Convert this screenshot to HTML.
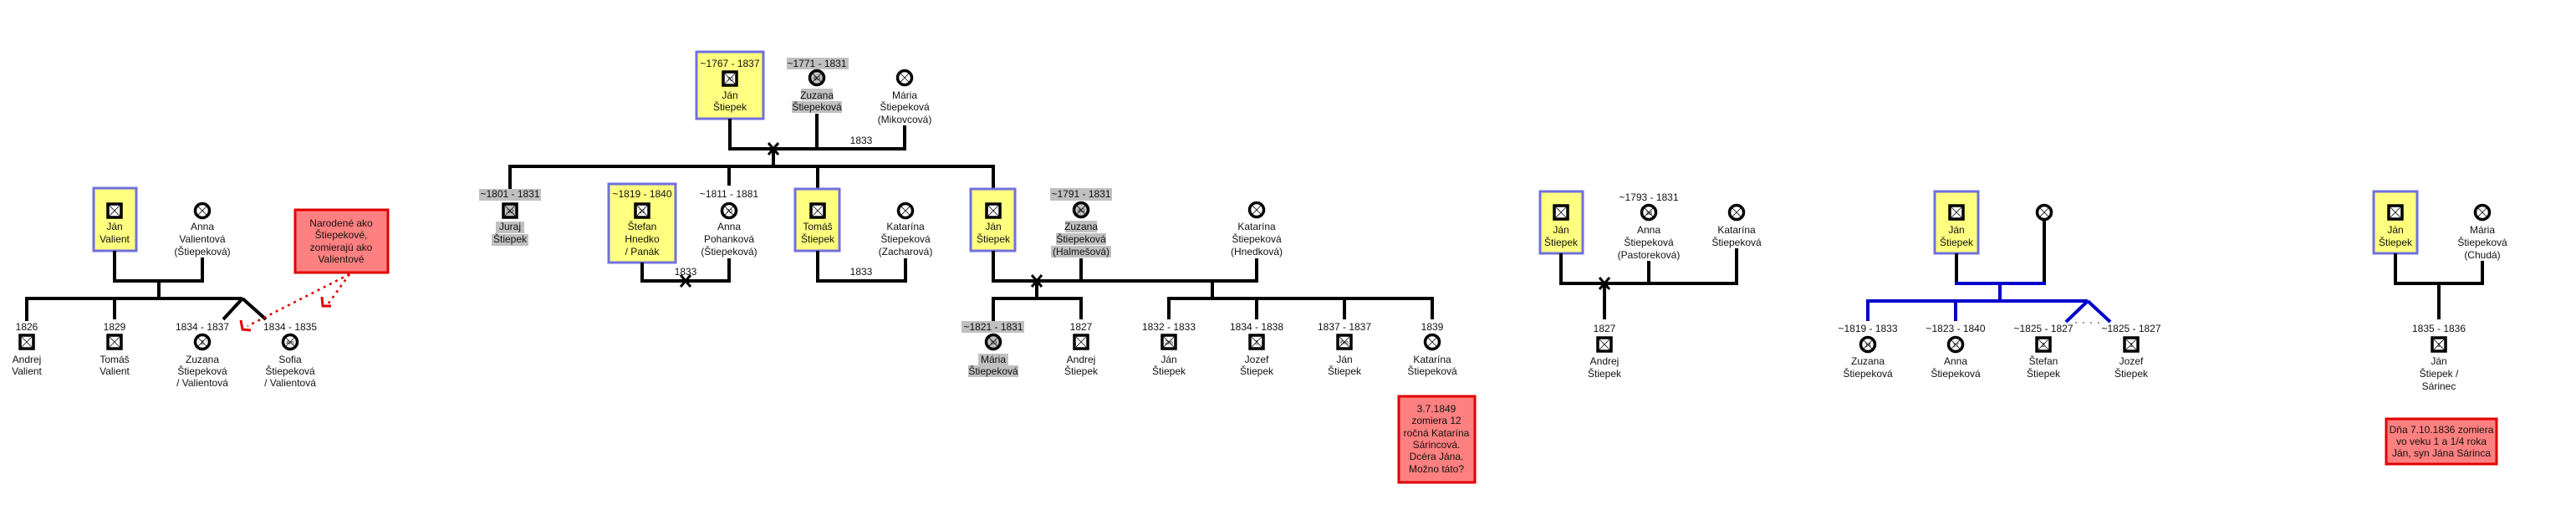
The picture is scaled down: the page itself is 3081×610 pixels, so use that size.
<!DOCTYPE html>
<html><head><meta charset="utf-8"><style>
html,body{margin:0;padding:0;background:#fff;}
svg{display:block;}
text{font-family:"Liberation Sans",Arial,sans-serif;font-size:12px;fill:#111;text-anchor:middle;}
.n{font-size:7px;}
.L{stroke:#000;stroke-width:4;fill:none;}
.B{stroke:#0000cc;stroke-width:4;fill:none;}
.box{fill:#ffff80;stroke:#7070e0;stroke-width:3;}
.red{fill:#ff8080;stroke:#e00000;stroke-width:3;}
.g{fill:#c0c0c0;}
</style></head><body>
<svg width="3081" height="610" viewBox="0 0 3081 610" xmlns="http://www.w3.org/2000/svg">
<defs>
<g id="m"><rect x="-8" y="-8" width="16" height="16" stroke="#000" stroke-width="3.5"/><path d="M-6,-6L6,6M6,-6L-6,6" stroke="#000" stroke-width="0.8"/></g>
<g id="f"><circle r="8.5" stroke="#000" stroke-width="3.5"/><path d="M-6,-6L6,6M6,-6L-6,6" stroke="#000" stroke-width="0.8"/></g>
<g id="x"><path d="M-6,-7L6,7M6,-7L-6,7" stroke="#000" stroke-width="3"/></g>
</defs>

<!-- ===== Group 1: Valient ===== -->
<rect class="box" x="112" y="225" width="51" height="75"/>
<use href="#m" x="137" y="252" fill="#fff"/>
<text x="137" y="275">Ján</text><text x="137" y="290">Valient</text>
<use href="#f" x="242" y="252" fill="#fff"/>
<text x="242" y="275">Anna</text><text x="242" y="290">Valientová</text><text x="242" y="305">(Štiepeková)</text>
<path class="L" d="M137,300V336H242V308M190,336V357M32,384V357H290M137,357V382M290,357L267,382M290,357L318,382"/>
<text x="32" y="395">1826</text><use href="#m" x="32" y="409" fill="#fff"/>
<text x="32" y="434">Andrej</text><text x="32" y="448">Valient</text>
<text x="137" y="395">1829</text><use href="#m" x="137" y="409" fill="#fff"/>
<text x="137" y="434">Tomáš</text><text x="137" y="448">Valient</text>
<text x="242" y="395">1834 - 1837</text><use href="#f" x="242" y="409" fill="#fff"/><text class="n" x="242" y="412">2</text>
<text x="242" y="434">Zuzana</text><text x="242" y="448">Štiepeková</text><text x="242" y="462">/ Valientová</text>
<text x="347" y="395">1834 - 1835</text><use href="#f" x="347" y="409" fill="#fff"/><text class="n" x="347" y="412">4m</text>
<text x="347" y="434">Sofia</text><text x="347" y="448">Štiepeková</text><text x="347" y="462">/ Valientová</text>
<rect class="red" x="353" y="251" width="111" height="75"/>
<text x="408" y="271">Narodené ako</text><text x="408" y="285">Štiepekové,</text><text x="408" y="300">zomierajú ako</text><text x="408" y="314">Valientové</text>
<path d="M418,328L296,390M418,328L392,364" stroke="#e00000" stroke-width="2.5" stroke-dasharray="3,5" fill="none"/>
<path d="M288,383L290,394L300,395" stroke="#e00000" stroke-width="3" fill="none"/>
<path d="M385,355L386,366L396,366" stroke="#e00000" stroke-width="3" fill="none"/>

<!-- ===== Group 2: top ===== -->
<rect class="box" x="833" y="62" width="80" height="80"/>
<text x="873" y="80">~1767 - 1837</text>
<use href="#m" x="873" y="94" fill="#fff"/><text class="n" x="873" y="97">70</text>
<text x="873" y="118">Ján</text><text x="873" y="132">Štiepek</text>
<rect class="g" x="941" y="69" width="74" height="14"/>
<text x="977" y="80">~1771 - 1831</text>
<use href="#f" x="977" y="93" fill="#c0c0c0"/><text class="n" x="977" y="96">60</text>
<rect class="g" x="958" y="106" width="38" height="14"/><rect class="g" x="947" y="121" width="60" height="14"/>
<text x="977" y="118">Zuzana</text><text x="977" y="132">Štiepeková</text>
<use href="#f" x="1082" y="93" fill="#fff"/>
<text x="1082" y="118">Mária</text><text x="1082" y="132">Štiepeková</text><text x="1082" y="147">(Mikovcová)</text>
<path class="L" d="M873,142V178H1082V150M977,136V178M925,178V199M610,226V199H1188V226M872,199V222M978,199V226"/>
<use href="#x" x="925" y="178"/>
<text x="1030" y="172">1833</text>

<!-- row 2 -->
<rect class="g" x="573" y="226" width="74" height="14"/>
<text x="610" y="236">~1801 - 1831</text>
<use href="#m" x="610" y="252" fill="#c0c0c0"/><text class="n" x="610" y="255">30</text>
<rect class="g" x="593" y="265" width="34" height="14"/><rect class="g" x="588" y="280" width="44" height="14"/>
<text x="610" y="275">Juraj</text><text x="610" y="290">Štiepek</text>

<rect class="box" x="728" y="220" width="80" height="94"/>
<text x="768" y="236">~1819 - 1840</text>
<use href="#m" x="768" y="252" fill="#fff"/><text class="n" x="768" y="255">21</text>
<text x="768" y="275">Štefan</text><text x="768" y="290">Hnedko</text><text x="768" y="305">/ Panák</text>
<text x="872" y="236">~1811 - 1881</text>
<use href="#f" x="872" y="252" fill="#fff"/><text class="n" x="872" y="255">70</text>
<text x="872" y="275">Anna</text><text x="872" y="290">Pohanková</text><text x="872" y="305">(Štiepeková)</text>
<path class="L" d="M768,314V336H872V309"/>
<use href="#x" x="820" y="336"/>
<text x="820" y="329">1833</text>

<rect class="box" x="951" y="226" width="53" height="74"/>
<use href="#m" x="978" y="252" fill="#fff"/>
<text x="978" y="275">Tomáš</text><text x="978" y="290">Štiepek</text>
<use href="#f" x="1083" y="252" fill="#fff"/>
<text x="1083" y="275">Katarína</text><text x="1083" y="290">Štiepeková</text><text x="1083" y="305">(Zacharová)</text>
<path class="L" d="M978,300V336H1083V309"/>
<text x="1030" y="329">1833</text>

<rect class="box" x="1161" y="226" width="53" height="74"/>
<use href="#m" x="1188" y="252" fill="#fff"/>
<text x="1188" y="275">Ján</text><text x="1188" y="290">Štiepek</text>
<rect class="g" x="1256" y="225" width="74" height="15"/>
<text x="1293" y="236">~1791 - 1831</text>
<use href="#f" x="1293" y="251" fill="#c0c0c0"/><text class="n" x="1293" y="254">40</text>
<rect class="g" x="1274" y="264" width="38" height="14"/><rect class="g" x="1263" y="279" width="60" height="14"/><rect class="g" x="1257" y="294" width="72" height="14"/>
<text x="1293" y="275">Zuzana</text><text x="1293" y="290">Štiepeková</text><text x="1293" y="305">(Halmešová)</text>
<use href="#f" x="1503" y="251" fill="#fff"/>
<text x="1503" y="275">Katarína</text><text x="1503" y="290">Štiepeková</text><text x="1503" y="305">(Hnedková)</text>
<path class="L" d="M1188,300V336H1503V309M1293,309V336M1240,336V357M1188,384V357H1293V382M1450,336V357M1398,382V357H1713V382M1503,357V382M1608,357V382"/>
<use href="#x" x="1240" y="336"/>

<!-- row 3 -->
<rect class="g" x="1150" y="384" width="75" height="14"/>
<text x="1188" y="395">~1821 - 1831</text>
<use href="#f" x="1188" y="409" fill="#c0c0c0"/><text class="n" x="1188" y="412">10</text>
<rect class="g" x="1170" y="423" width="36" height="14"/><rect class="g" x="1158" y="437" width="60" height="14"/>
<text x="1188" y="434">Mária</text><text x="1188" y="448">Štiepeková</text>
<text x="1293" y="395">1827</text><use href="#m" x="1293" y="409" fill="#fff"/>
<text x="1293" y="434">Andrej</text><text x="1293" y="448">Štiepek</text>
<text x="1398" y="395">1832 - 1833</text><use href="#m" x="1398" y="409" fill="#fff"/><text class="n" x="1398" y="412">2m</text>
<text x="1398" y="434">Ján</text><text x="1398" y="448">Štiepek</text>
<text x="1503" y="395">1834 - 1838</text><use href="#m" x="1503" y="409" fill="#fff"/><text class="n" x="1503" y="412">3</text>
<text x="1503" y="434">Jozef</text><text x="1503" y="448">Štiepek</text>
<text x="1608" y="395">1837 - 1837</text><use href="#m" x="1608" y="409" fill="#fff"/><text class="n" x="1608" y="412">6m</text>
<text x="1608" y="434">Ján</text><text x="1608" y="448">Štiepek</text>
<text x="1713" y="395">1839</text><use href="#f" x="1713" y="409" fill="#fff"/>
<text x="1713" y="434">Katarína</text><text x="1713" y="448">Štiepeková</text>
<rect class="red" x="1673" y="474" width="91" height="103"/>
<text x="1718" y="493">3.7.1849</text><text x="1718" y="507">zomiera 12</text><text x="1718" y="522">ročná Katarína</text><text x="1718" y="536">Sárincová.</text><text x="1718" y="550">Dcéra Jána.</text><text x="1718" y="565">Možno táto?</text>

<!-- ===== Group 4 ===== -->
<rect class="box" x="1842" y="229" width="51" height="74"/>
<use href="#m" x="1867" y="254" fill="#fff"/>
<text x="1867" y="279">Ján</text><text x="1867" y="294">Štiepek</text>
<text x="1972" y="240">~1793 - 1831</text>
<use href="#f" x="1972" y="254" fill="#fff"/><text class="n" x="1972" y="257">38</text>
<text x="1972" y="279">Anna</text><text x="1972" y="294">Štiepeková</text><text x="1972" y="309">(Pastoreková)</text>
<use href="#f" x="2077" y="254" fill="#fff"/>
<text x="2077" y="279">Katarína</text><text x="2077" y="294">Štiepeková</text>
<path class="L" d="M1867,303V339H2077V297M1972,312V339M1919,339V382"/>
<use href="#x" x="1919" y="339"/>
<text x="1919" y="397">1827</text><use href="#m" x="1919" y="412" fill="#fff"/>
<text x="1919" y="436">Andrej</text><text x="1919" y="451">Štiepek</text>

<!-- ===== Group 5 ===== -->
<rect class="box" x="2314" y="229" width="52" height="74"/>
<use href="#m" x="2340" y="254" fill="#fff"/>
<text x="2340" y="279">Ján</text><text x="2340" y="294">Štiepek</text>
<use href="#f" x="2445" y="254" fill="#fff"/>
<path class="L" d="M2340,303V339M2445,264V339"/>
<path class="B" d="M2338,339H2447M2392,339V360M2234,384V360H2497M2339,360V384M2497,360L2471,385M2497,360L2524,385"/>
<path d="M2482,386H2514" stroke="#999" stroke-width="2" stroke-dasharray="2,7"/>
<text x="2234" y="397">~1819 - 1833</text><use href="#f" x="2234" y="412" fill="#fff"/><text class="n" x="2234" y="415">14</text>
<text x="2234" y="436">Zuzana</text><text x="2234" y="451">Štiepeková</text>
<text x="2339" y="397">~1823 - 1840</text><use href="#f" x="2339" y="412" fill="#fff"/><text class="n" x="2339" y="415">17</text>
<text x="2339" y="436">Anna</text><text x="2339" y="451">Štiepeková</text>
<text x="2444" y="397">~1825 - 1827</text><use href="#m" x="2444" y="412" fill="#fff"/><text class="n" x="2444" y="415">2</text>
<text x="2444" y="436">Štefan</text><text x="2444" y="451">Štiepek</text>
<text x="2549" y="397">~1825 - 1827</text><use href="#m" x="2549" y="412" fill="#fff"/><text class="n" x="2549" y="415">1</text>
<text x="2549" y="436">Jozef</text><text x="2549" y="451">Štiepek</text>

<!-- ===== Group 6 ===== -->
<rect class="box" x="2839" y="229" width="52" height="74"/>
<use href="#m" x="2865" y="254" fill="#fff"/>
<text x="2865" y="279">Ján</text><text x="2865" y="294">Štiepek</text>
<use href="#f" x="2969" y="254" fill="#fff"/>
<text x="2969" y="279">Mária</text><text x="2969" y="294">Štiepeková</text><text x="2969" y="309">(Chudá)</text>
<path class="L" d="M2865,303V339H2969V312M2917,339V382"/>
<text x="2917" y="397">1835 - 1836</text><use href="#m" x="2917" y="412" fill="#fff"/><text class="n" x="2917" y="415">1</text>
<text x="2917" y="436">Ján</text><text x="2917" y="451">Štiepek /</text><text x="2917" y="466">Sárinec</text>
<rect class="red" x="2854" y="501" width="132" height="54"/>
<text x="2920" y="518">Dňa 7.10.1836 zomiera</text><text x="2920" y="532">vo veku 1 a 1/4 roka</text><text x="2920" y="546">Ján, syn Jána Sárinca</text>
</svg>
</body></html>
